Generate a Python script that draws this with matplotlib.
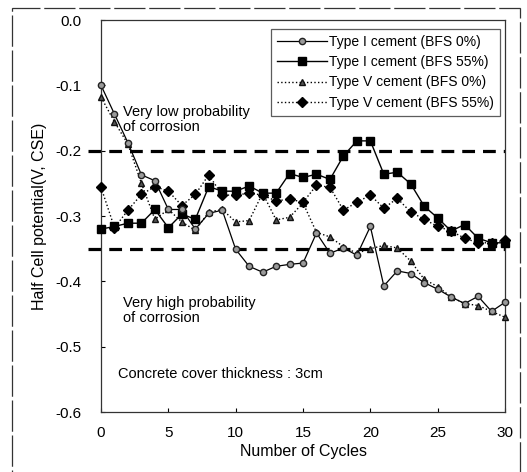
import numpy as np
import matplotlib
matplotlib.use("Agg")
import matplotlib.pyplot as plt
from matplotlib.patches import Rectangle

plt.rcParams['font.family'] = ['Liberation Sans', 'DejaVu Sans']

# Zyklen und Potentiale (V, CSE)
cycles = list(range(31))

type1_bfs0 = [-0.100, -0.144, -0.188, -0.237, -0.246, -0.290, -0.290, -0.320, -0.296, -0.291,
              -0.351, -0.377, -0.386, -0.377, -0.374, -0.372, -0.326, -0.357, -0.349, -0.360,
              -0.316, -0.407, -0.384, -0.388, -0.402, -0.412, -0.424, -0.434, -0.423, -0.446,
              -0.432]
type1_bfs55 = [-0.320, -0.316, -0.311, -0.311, -0.290, -0.318, -0.297, -0.305, -0.255, -0.262,
               -0.262, -0.254, -0.265, -0.265, -0.235, -0.241, -0.236, -0.244, -0.208, -0.185,
               -0.185, -0.236, -0.233, -0.251, -0.285, -0.303, -0.323, -0.313, -0.334, -0.341,
               -0.341]
type5_bfs0 = [-0.118, -0.156, -0.190, -0.250, -0.305, -0.290, -0.309, -0.322, -0.294, -0.290,
              -0.309, -0.307, -0.265, -0.306, -0.302, -0.280, -0.325, -0.332, -0.347, -0.357,
              -0.350, -0.345, -0.349, -0.369, -0.397, -0.408, -0.424, -0.434, -0.437, -0.446,
              -0.455]
type5_bfs55 = [-0.256, -0.318, -0.291, -0.267, -0.255, -0.262, -0.284, -0.267, -0.237, -0.268,
               -0.268, -0.265, -0.268, -0.277, -0.274, -0.279, -0.253, -0.256, -0.291, -0.279,
               -0.268, -0.288, -0.273, -0.294, -0.305, -0.316, -0.323, -0.334, -0.341, -0.341,
               -0.337]

labels = ["Type I cement (BFS 0%)", "Type I cement (BFS 55%)",
          "Type V cement (BFS 0%)", "Type V cement (BFS 55%)"]

thresholds = [-0.2, -0.35]  # Grenzwerte Korrosionswahrscheinlichkeit

fig = plt.figure(figsize=(5.27, 4.72), dpi=100)
ax = fig.add_axes([0.1917, 0.1271, 0.7666, 0.8305])

# Rahmen um die ganze Abbildung (unten abgeschnitten)
fig.patches.append(Rectangle((12 / 527, -0.02), 508 / 527, 1 - 8 / 472 + 0.02,
                             transform=fig.transFigure, fill=False, edgecolor='#333333',
                             linewidth=0.9, linestyle=(0, (25, 3))))

for y in thresholds:
    ax.plot([-1, 30], [y, y], color='black', linewidth=2.3, linestyle=(0, (4, 2.5)),
            clip_on=False, zorder=1)

ax.plot(cycles, type1_bfs0, color='black', linewidth=0.9, marker='o', markersize=4.5,
        markerfacecolor='#9a9a9a', markeredgecolor='#222222', markeredgewidth=1.0,
        label=labels[0], clip_on=False, zorder=4)
ax.plot(cycles, type1_bfs55, color='black', linewidth=1.0, marker='s', markersize=6,
        markerfacecolor='black', markeredgecolor='black',
        label=labels[1], clip_on=False, zorder=3)
ax.plot(cycles, type5_bfs0, color='black', linewidth=1.0, linestyle=':', marker='^',
        markersize=5, markerfacecolor='#555555', markeredgecolor='#111111',
        label=labels[2], clip_on=False, zorder=3)
ax.plot(cycles, type5_bfs55, color='black', linewidth=1.0, linestyle=':', marker='D',
        markersize=5, markerfacecolor='black', markeredgecolor='black',
        label=labels[3], clip_on=False, zorder=3)

ax.set_xlim(0, 30)
ax.set_ylim(-0.6, 0.0)
ax.set_xticks(np.arange(0, 31, 5))
ax.set_yticks(np.arange(-0.6, 0.01, 0.1))
ax.set_yticklabels(["-0.6", "-0.5", "-0.4", "-0.3", "-0.2", "-0.1", "0.0"])
ax.tick_params(direction='in', length=3, width=0.8, labelsize=11)
ax.tick_params(axis='y', pad=14)
ax.tick_params(axis='x', pad=10)
for s in ax.spines.values():
    s.set_linewidth(0.9)
    s.set_color('#333333')

ax.set_xlabel("Number of Cycles", fontsize=11.5, labelpad=3)
ax.set_ylabel("Half Cell potential(V, CSE)", fontsize=11.5, labelpad=6)

ax.text(1.6, -0.152, "Very low probability\nof corrosion", fontsize=10.5,
        va='center', ha='left', linespacing=1.1)
ax.text(1.6, -0.444, "Very high probability\nof corrosion", fontsize=10.5,
        va='center', ha='left', linespacing=1.1)
ax.text(1.25, -0.542, "Concrete cover thickness : 3cm", fontsize=10.5,
        va='center', ha='left')

leg = ax.legend(loc='upper right', bbox_to_anchor=(0.995, 0.985), fontsize=10,
                handlelength=3.6, handletextpad=0.15, labelspacing=0.45,
                borderpad=0.45, frameon=True, fancybox=False, borderaxespad=0.2)
leg.get_frame().set_edgecolor('#333333')
leg.get_frame().set_linewidth(0.9)

fig.savefig("out.png", dpi=100)
